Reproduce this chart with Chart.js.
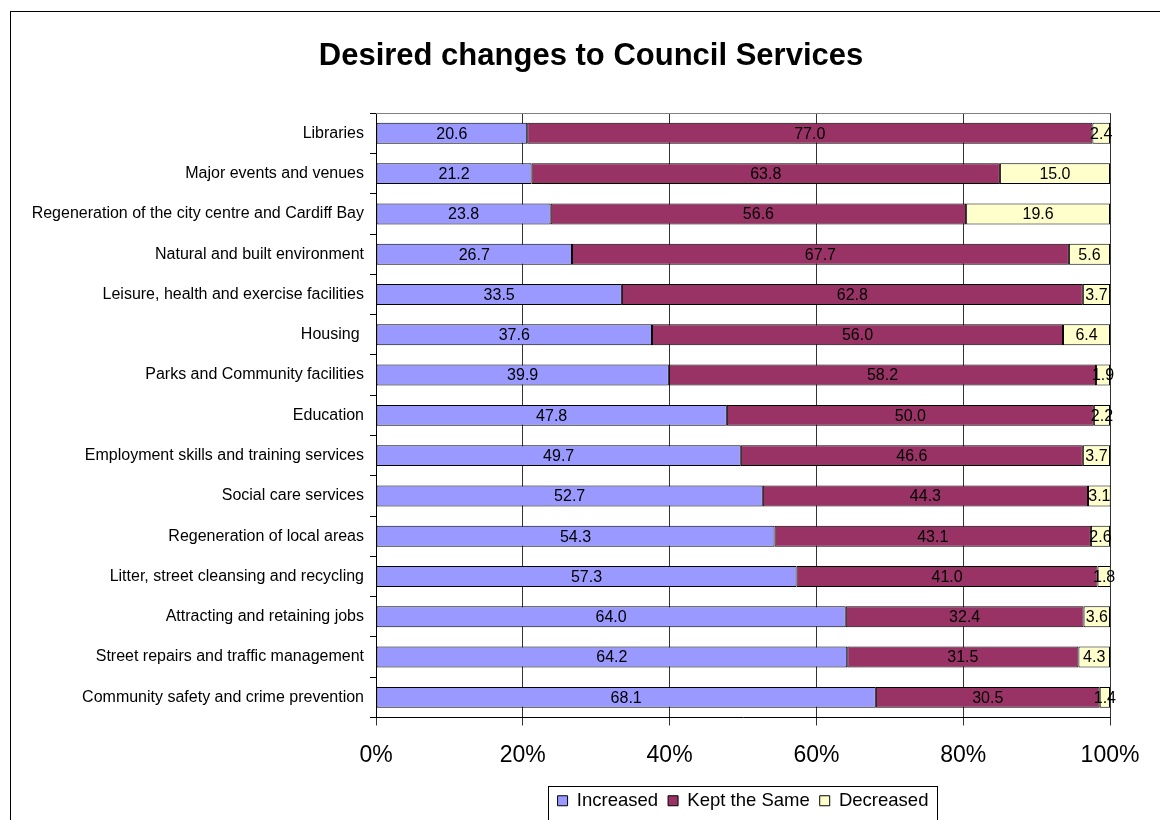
<!DOCTYPE html>
<html>
<head>
<meta charset="utf-8">
<script src="https://cdn.jsdelivr.net/npm/chart.js@4"></script>
<style>
  html, body { margin: 0; padding: 0; background: #fff; }
  #chart { display: block; }
</style>
</head>
<body>
<canvas id="chart" width="1160" height="820"></canvas>
<script>
// Services, top to bottom
const services = [
    'Libraries',
    'Major events and venues',
    'Regeneration of the city centre and Cardiff Bay',
    'Natural and built environment',
    'Leisure, health and exercise facilities',
    'Housing ',
    'Parks and Community facilities',
    'Education',
    'Employment skills and training services',
    'Social care services',
    'Regeneration of local areas',
    'Litter, street cleansing and recycling',
    'Attracting and retaining jobs',
    'Street repairs and traffic management',
    'Community safety and crime prevention'
];

const increased = [20.6, 21.2, 23.8, 26.7, 33.5, 37.6, 39.9, 47.8, 49.7, 52.7, 54.3, 57.3, 64.0, 64.2, 68.1];
const keptSame  = [77.0, 63.8, 56.6, 67.7, 62.8, 56.0, 58.2, 50.0, 46.6, 44.3, 43.1, 41.0, 32.4, 31.5, 30.5];
const decreased = [2.4, 15.0, 19.6, 5.6, 3.7, 6.4, 1.9, 2.2, 3.7, 3.1, 2.6, 1.8, 3.6, 4.3, 1.4];

const percentTicks = [0, 20, 40, 60, 80, 100];

const FONT = "'Liberation Sans', Arial, sans-serif";

// white page with the outer frame
const framePlugin = {
    id: 'frame',
    beforeDraw(chart) {
        const ctx = chart.ctx;
        ctx.save();
        ctx.fillStyle = '#fff';
        ctx.fillRect(0, 0, chart.width, chart.height);
        ctx.strokeStyle = '#000';
        ctx.lineWidth = 1;
        ctx.strokeRect(10.5, 11.5, chart.width + 10, chart.height + 10);
        ctx.restore();
    },
    afterDraw(chart) {
        // top edge of plot area and box round the legend
        const ctx = chart.ctx;
        const a = chart.chartArea;
        ctx.save();
        ctx.strokeStyle = '#808080';
        ctx.lineWidth = 1;
        ctx.beginPath();
        ctx.moveTo(a.left, Math.round(a.top) + 0.5);
        ctx.lineTo(a.right, Math.round(a.top) + 0.5);
        ctx.stroke();

        const boxes = chart.legend.legendHitBoxes;
        if (boxes && boxes.length) {
            const minX = Math.min(...boxes.map(b => b.left));
            const maxX = Math.max(...boxes.map(b => b.left + b.width));
            const top = Math.min(...boxes.map(b => b.top));
            ctx.strokeStyle = '#000';
            ctx.strokeRect(Math.round(minX - 10) + 0.5, Math.round(top - 6) + 0.5, Math.round(maxX - minX + 18), 60);
        }
        ctx.restore();
    }
};

// value written in the middle of each segment
const valueLabels = {
    id: 'valueLabels',
    afterDatasetsDraw(chart) {
        const ctx = chart.ctx;
        ctx.save();
        ctx.font = '16px ' + FONT;
        ctx.fillStyle = '#000';
        ctx.textAlign = 'center';
        ctx.textBaseline = 'middle';
        chart.data.datasets.forEach((ds, i) => {
            chart.getDatasetMeta(i).data.forEach((bar, j) => {
                const cx = (bar.x + bar.base) / 2;
                ctx.fillText(ds.data[j].toFixed(1), cx, bar.y + 1);
            });
        });
        ctx.restore();
    }
};

const barStyle = {
    borderColor: '#000',
    borderWidth: 1,
    borderSkipped: false,
    barPercentage: 0.52,
    categoryPercentage: 1
};

new Chart(document.getElementById('chart'), {
    type: 'bar',
    data: {
        labels: services,
        datasets: [
            { label: 'Increased', data: increased, backgroundColor: '#9999FF', ...barStyle },
            { label: 'Kept the Same', data: keptSame, backgroundColor: '#993366', ...barStyle },
            { label: 'Decreased', data: decreased, backgroundColor: '#FFFFCC', ...barStyle }
        ]
    },
    options: {
        indexAxis: 'y',
        responsive: false,
        animation: false,
        layout: { padding: { left: 22, right: 0, top: 0, bottom: 0 } },
        plugins: {
            title: {
                display: true,
                text: 'Desired changes to Council Services',
                color: '#000',
                font: { family: FONT, size: 31, weight: 'bold' },
                padding: { top: 38, bottom: 38 }
            },
            legend: {
                position: 'bottom',
                fullSize: false,
                labels: {
                    color: '#000',
                    font: { family: FONT, size: 18.5 },
                    boxWidth: 10,
                    boxHeight: 10,
                    padding: 10
                }
            },
            tooltip: { enabled: false }
        },
        scales: {
            x: {
                stacked: true,
                min: 0,
                max: 100,
                afterBuildTicks(scale) {
                    scale.ticks = percentTicks.map(v => ({ value: v }));
                },
                ticks: {
                    color: '#000',
                    font: { family: FONT, size: 23 },
                    padding: 16,
                    maxRotation: 0,
                    callback: v => v + '%'
                },
                grid: { color: '#333', tickLength: 8 },
                border: { color: '#000' },
                afterFit(scale) { scale.height = 64; }
            },
            y: {
                stacked: true,
                ticks: {
                    color: '#000',
                    font: { family: FONT, size: 16 },
                    padding: 6,
                    autoSkip: false
                },
                grid: { offset: true, drawOnChartArea: false, color: '#000', tickLength: 6 },
                border: { color: '#000' },
                afterFit(scale) { scale.width = 354; }
            },
            // empty margin to the right of the plot
            yRight: {
                position: 'right',
                grid: { display: false },
                border: { display: false },
                ticks: { display: false },
                afterFit(scale) { scale.width = 50; }
            }
        }
    },
    plugins: [framePlugin, valueLabels]
});
</script>
</body>
</html>
